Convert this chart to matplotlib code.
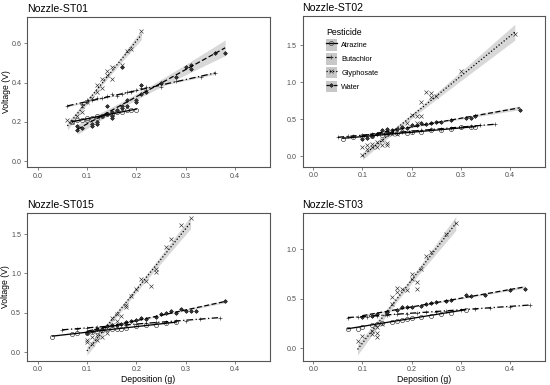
import numpy as np
import matplotlib; matplotlib.use("Agg")
import matplotlib.pyplot as plt
from matplotlib.lines import Line2D
from matplotlib.patches import Patch

plt.rcParams["font.family"] = ["Liberation Sans", "DejaVu Sans"]

pesticides = ["Atrazine", "Butachlor", "Glyphosate", "Water"]
nozzles = ["Nozzle-ST01", "Nozzle-ST02", "Nozzle-ST015", "Nozzle-ST03"]

# ---- data: deposition (g), voltage (V) ----
st01_atr_x = [0.07,0.08,0.09,0.10,0.10,0.11,0.12,0.12,0.13,0.14,0.15,0.16,0.17,0.18,0.19,0.20]
st01_atr_y = [0.20,0.21,0.21,0.22,0.21,0.22,0.22,0.23,0.23,0.24,0.24,0.25,0.25,0.26,0.26,0.26]
st01_but_x = [0.06,0.09,0.10,0.10,0.11,0.12,0.13,0.14,0.15,0.16,0.17,0.18,0.19,0.20,0.21,0.22,0.22,0.25,0.28,0.33,0.36]
st01_but_y = [0.28,0.29,0.30,0.31,0.31,0.32,0.32,0.33,0.34,0.33,0.34,0.35,0.35,0.36,0.37,0.38,0.36,0.38,0.41,0.43,0.45]
st01_gly_x = [0.06,0.07,0.08,0.09,0.09,0.10,0.11,0.12,0.12,0.13,0.13,0.14,0.14,0.15,0.15,0.17,0.18,0.19,0.21]
st01_gly_y = [0.21,0.20,0.23,0.25,0.28,0.30,0.32,0.35,0.39,0.37,0.42,0.44,0.46,0.42,0.48,0.49,0.56,0.57,0.66]
st01_wat_x = [0.08,0.08,0.09,0.11,0.11,0.12,0.12,0.13,0.14,0.14,0.15,0.15,0.15,0.16,0.17,0.17,0.17,0.18,0.18,0.20,0.20,0.21,0.21,0.22,0.25,0.28,0.30,0.31,0.31,0.36,0.38]
st01_wat_y = [0.18,0.16,0.17,0.18,0.19,0.20,0.19,0.23,0.24,0.28,0.22,0.23,0.25,0.26,0.27,0.28,0.48,0.31,0.28,0.30,0.31,0.34,0.39,0.35,0.40,0.43,0.48,0.47,0.49,0.55,0.55]

st02_atr_x = [0.06,0.08,0.10,0.12,0.14,0.15,0.17,0.19,0.20,0.22,0.24,0.26,0.28,0.30,0.32,0.33]
st02_atr_y = [0.24,0.26,0.27,0.28,0.29,0.30,0.31,0.31,0.33,0.33,0.35,0.36,0.37,0.39,0.40,0.40]
st02_but_x = [0.05,0.07,0.08,0.10,0.12,0.14,0.16,0.18,0.20,0.22,0.24,0.26,0.28,0.30,0.32,0.34,0.37]
st02_but_y = [0.26,0.27,0.27,0.29,0.30,0.31,0.32,0.33,0.33,0.35,0.37,0.37,0.38,0.39,0.41,0.42,0.44]
st02_gly_x = [0.10,0.10,0.11,0.11,0.12,0.12,0.13,0.13,0.14,0.14,0.15,0.15,0.16,0.17,0.18,0.19,0.20,0.21,0.21,0.22,0.22,0.23,0.24,0.24,0.25,0.30,0.41]
st02_gly_y = [0.12,0.02,0.15,0.10,0.17,0.12,0.13,0.20,0.15,0.22,0.18,0.15,0.30,0.30,0.37,0.45,0.56,0.55,0.45,0.55,0.73,0.87,0.85,0.80,0.82,1.15,1.66]
st02_wat_x = [0.10,0.11,0.12,0.13,0.14,0.15,0.15,0.16,0.17,0.18,0.19,0.20,0.21,0.22,0.23,0.24,0.25,0.26,0.28,0.31,0.32,0.33,0.42]
st02_wat_y = [0.24,0.25,0.28,0.30,0.35,0.37,0.33,0.35,0.37,0.40,0.38,0.42,0.43,0.45,0.44,0.45,0.46,0.47,0.49,0.52,0.52,0.55,0.63]

st015_atr_x = [0.03,0.07,0.08,0.10,0.11,0.12,0.13,0.14,0.15,0.16,0.17,0.18,0.20,0.22,0.24,0.26,0.28]
st015_atr_y = [0.20,0.23,0.25,0.25,0.26,0.27,0.28,0.29,0.30,0.29,0.30,0.31,0.33,0.34,0.35,0.37,0.38]
st015_but_x = [0.05,0.08,0.10,0.12,0.14,0.16,0.18,0.20,0.22,0.24,0.26,0.28,0.30,0.33,0.37]
st015_but_y = [0.28,0.30,0.31,0.32,0.33,0.34,0.35,0.36,0.37,0.38,0.39,0.40,0.40,0.42,0.44]
st015_gly_x = [0.10,0.10,0.11,0.11,0.12,0.12,0.13,0.14,0.15,0.15,0.16,0.16,0.17,0.18,0.18,0.19,0.20,0.21,0.22,0.23,0.24,0.24,0.26,0.27,0.29,0.31]
st015_gly_y = [0.13,0.15,0.10,0.20,0.15,0.22,0.20,0.25,0.35,0.43,0.40,0.48,0.46,0.60,0.57,0.72,0.80,0.93,0.90,0.84,1.02,1.05,1.33,1.44,1.62,1.70]
st015_wat_x = [0.10,0.11,0.12,0.13,0.14,0.15,0.16,0.17,0.18,0.19,0.20,0.21,0.22,0.24,0.25,0.26,0.27,0.28,0.29,0.30,0.31,0.32,0.38]
st015_wat_y = [0.25,0.27,0.29,0.30,0.33,0.34,0.35,0.36,0.38,0.40,0.41,0.43,0.42,0.45,0.48,0.50,0.52,0.50,0.55,0.53,0.53,0.52,0.65]

st03_atr_x = [0.07,0.09,0.10,0.12,0.13,0.14,0.16,0.17,0.18,0.19,0.20,0.22,0.24,0.26,0.28,0.31]
st03_atr_y = [0.20,0.20,0.22,0.24,0.25,0.26,0.27,0.28,0.29,0.30,0.31,0.32,0.33,0.35,0.36,0.39]
st03_but_x = [0.07,0.09,0.11,0.13,0.15,0.17,0.19,0.21,0.23,0.25,0.27,0.30,0.33,0.36,0.40,0.44]
st03_but_y = [0.31,0.32,0.32,0.33,0.34,0.35,0.35,0.36,0.37,0.37,0.38,0.39,0.40,0.41,0.42,0.44]
st03_gly_x = [0.09,0.10,0.12,0.12,0.13,0.13,0.13,0.14,0.15,0.16,0.16,0.17,0.17,0.18,0.19,0.20,0.20,0.21,0.21,0.22,0.23,0.24,0.27,0.29]
st03_gly_y = [0.07,0.12,0.15,0.18,0.11,0.16,0.22,0.25,0.35,0.52,0.45,0.61,0.57,0.60,0.59,0.75,0.70,0.67,0.60,0.80,0.93,0.97,1.15,1.27]
st03_wat_x = [0.10,0.12,0.13,0.15,0.17,0.18,0.19,0.20,0.22,0.23,0.24,0.25,0.27,0.28,0.31,0.32,0.35,0.40,0.43]
st03_wat_y = [0.32,0.33,0.35,0.37,0.39,0.42,0.42,0.42,0.43,0.45,0.46,0.47,0.48,0.49,0.54,0.53,0.54,0.59,0.60]

data = {
    "Nozzle-ST01": [(st01_atr_x, st01_atr_y), (st01_but_x, st01_but_y), (st01_gly_x, st01_gly_y), (st01_wat_x, st01_wat_y)],
    "Nozzle-ST02": [(st02_atr_x, st02_atr_y), (st02_but_x, st02_but_y), (st02_gly_x, st02_gly_y), (st02_wat_x, st02_wat_y)],
    "Nozzle-ST015": [(st015_atr_x, st015_atr_y), (st015_but_x, st015_but_y), (st015_gly_x, st015_gly_y), (st015_wat_x, st015_wat_y)],
    "Nozzle-ST03": [(st03_atr_x, st03_atr_y), (st03_but_x, st03_but_y), (st03_gly_x, st03_gly_y), (st03_wat_x, st03_wat_y)],
}

# ---- styling ----
markers = {"Atrazine": "o", "Butachlor": "+", "Glyphosate": "x", "Water": (8, 2, 0)}
msizes = {"Atrazine": 3.0, "Butachlor": 3.4, "Glyphosate": 3.2, "Water": 3.0}
lstyles = {"Atrazine": "-", "Butachlor": (0, (5, 2, 1, 2)), "Glyphosate": (0, (1, 1.6)), "Water": (0, (4, 2))}
ylims = {"Nozzle-ST01": (-0.03, 0.734), "Nozzle-ST02": (-0.14, 1.9),
         "Nozzle-ST015": (-0.107, 1.77), "Nozzle-ST03": (-0.125, 1.37)}
yticks = {"Nozzle-ST01": [0.0, 0.2, 0.4, 0.6], "Nozzle-ST02": [0.0, 0.5, 1.0, 1.5],
          "Nozzle-ST015": [0.0, 0.5, 1.0, 1.5], "Nozzle-ST03": [0.0, 0.5, 1.0]}
pos = {"Nozzle-ST01": [0.049, 0.566, 0.442, 0.390], "Nozzle-ST02": [0.550, 0.567, 0.4405, 0.392],
       "Nozzle-ST015": [0.0485, 0.063, 0.4425, 0.3845], "Nozzle-ST03": [0.550, 0.063, 0.4405, 0.3845]}

fig = plt.figure(figsize=(5.5, 3.85), dpi=100)
for nz in nozzles:
    ax = fig.add_axes(pos[nz])
    for pest, (x, y) in zip(pesticides, data[nz]):
        x = np.array(x); y = np.array(y); n = len(x)
        b1, b0 = np.polyfit(x, y, 1)
        xs = np.linspace(x.min(), x.max(), 80); fit = b0 + b1 * xs
        s = np.sqrt(np.sum((y - (b0 + b1 * x)) ** 2) / (n - 2))
        se = s * np.sqrt(1 / n + (xs - x.mean()) ** 2 / np.sum((x - x.mean()) ** 2))
        ax.fill_between(xs, fit - 2.05 * se, fit + 2.05 * se, color="#c8c8c8", alpha=0.7, lw=0, zorder=1)
        ax.plot(xs, fit, color="black", lw=0.9, ls=lstyles[pest], zorder=3)
        ax.plot(x, y, ls="none", marker=markers[pest], ms=msizes[pest], mfc="none", mec="#333333", mew=0.45, zorder=2)
    ax.set_xlim(-0.022, 0.471); ax.set_ylim(*ylims[nz])
    ax.set_xticks([0.0, 0.1, 0.2, 0.3, 0.4]); ax.set_yticks(yticks[nz])
    ax.xaxis.set_major_formatter(matplotlib.ticker.FormatStrFormatter("%.1f"))
    ax.yaxis.set_major_formatter(matplotlib.ticker.FormatStrFormatter("%.1f"))
    ax.tick_params(labelsize=5.1, colors="#4d4d4d", length=2.5, width=0.5, pad=1.5)
    for sp in ax.spines.values():
        sp.set_color("#555555"); sp.set_linewidth(0.8)
    ax.set_title(nz, loc="left", fontsize=7.6, pad=3.5)
    if nz in ("Nozzle-ST01", "Nozzle-ST015"):
        ax.set_ylabel("Voltage (V)", fontsize=6.2, labelpad=0.5)
    if nz in ("Nozzle-ST015", "Nozzle-ST03"):
        ax.set_xlabel("Deposition (g)", fontsize=6.2, labelpad=1.5)
    if nz == "Nozzle-ST02":
        handles = [(Patch(color="#c8c8c8", lw=0),
                    Line2D([], [], color="black", lw=0.9, ls=lstyles[p], marker=markers[p],
                           ms=msizes[p], mfc="none", mec="#333333", mew=0.45)) for p in pesticides]
        leg = ax.legend(handles, pesticides, title="Pesticide", loc="upper left",
                        bbox_to_anchor=(0.075, 0.955), frameon=False, fontsize=5.3,
                        title_fontsize=6.3, handlelength=1.5, handleheight=2.1,
                        labelspacing=0.28, handletextpad=0.6, borderpad=0.2)
        leg._legend_box.align = "left"

fig.savefig("out.png", dpi=100)
